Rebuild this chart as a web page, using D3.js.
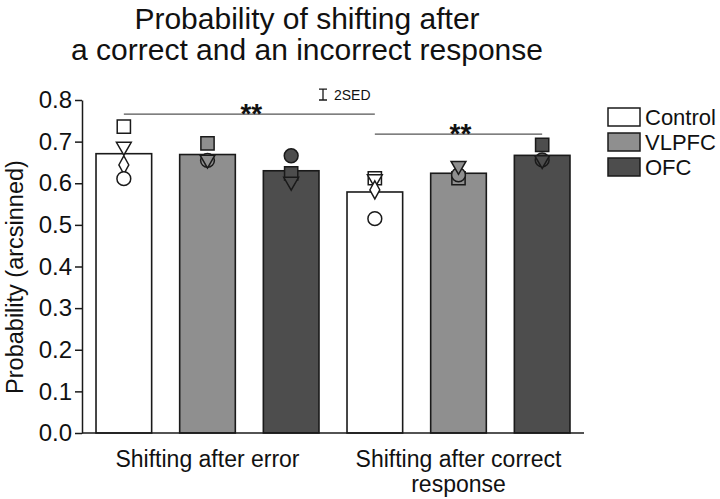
<!DOCTYPE html>
<html><head><meta charset="utf-8">
<script src="https://cdn.jsdelivr.net/npm/d3@7"></script>
<style>
html,body{margin:0;padding:0;background:#fff;}
svg text{font-family:"Liberation Sans",Arial,sans-serif;fill:#111;}
</style></head>
<body><svg id="c" width="720" height="499"></svg>
<script>
// ---- data ----
const groups = ["Control", "VLPFC", "OFC"];
const conditions = ["Shifting after error", "Shifting after correct response"];
const conditionLines = [["Shifting after error"], ["Shifting after correct", "response"]];
const meansError = [0.671, 0.669, 0.630];
const meansCorrect = [0.579, 0.624, 0.667];
// individual animals per bar: [symbol, value]
const pointsError = [
  [["square",0.736],["triangle",0.688],["diamond",0.644],["circle",0.611]],
  [["square",0.696],["circle",0.655],["triangle",0.657]],
  [["circle",0.666],["square",0.624],["triangle",0.604]]
];
const pointsCorrect = [
  [["square",0.612],["triangle",0.610],["diamond",0.584],["circle",0.515]],
  [["square",0.612],["circle",0.620],["triangle",0.642]],
  [["square",0.692],["circle",0.656],["triangle",0.656]]
];
const yTicks = [0,0.1,0.2,0.3,0.4,0.5,0.6,0.7,0.8];
const colors = ["#ffffff", "#8f8f8f", "#4d4d4d"];
const sed2 = 0.026;
// significance: [fromBar, toBar, level]
const sigs = [[0, 3, 0.766], [3, 5, 0.718]];

// ---- layout ----
const svg = d3.select("#c");
const x0 = 82, x1 = 584, yB = 433, yT = 100;
const bars = [];
[meansError, meansCorrect].forEach((m, ci) => m.forEach((v, gi) => bars.push({ci, gi, v,
  pts: (ci === 0 ? pointsError : pointsCorrect)[gi]})));
const x = d3.scaleBand().domain(d3.range(bars.length)).range([x0, x1])
  .paddingInner(0.335).paddingOuter(0.1675);
const y = d3.scaleLinear().domain([0, 0.8]).range([yB, yT]);
const ink = "#1a1a1a";

// title
svg.append("text").attr("x", 307).attr("y", 29).attr("text-anchor", "middle")
  .attr("font-size", 30).text("Probability of shifting after");
svg.append("text").attr("x", 307).attr("y", 60).attr("text-anchor", "middle")
  .attr("font-size", 30).text("a correct and an incorrect response");

// bars
svg.append("g").selectAll("rect").data(bars).join("rect")
  .attr("x", (d, i) => x(i)).attr("width", x.bandwidth())
  .attr("y", d => y(d.v)).attr("height", d => yB - y(d.v))
  .attr("fill", d => colors[d.gi]).attr("stroke", ink).attr("stroke-width", 1.6);

// symbols
const symType = {square: d3.symbolSquare, circle: d3.symbolCircle, diamond: d3.symbolDiamond, triangle: d3.symbolTriangle};
const symSize = {square: 175, circle: 150, diamond: 95, triangle: 95};
bars.forEach((b, i) => {
  const cx = x(i) + x.bandwidth() / 2;
  b.pts.forEach(([s, v]) => {
    svg.append("path")
      .attr("d", d3.symbol().type(symType[s]).size(symSize[s])())
      .attr("transform", `translate(${cx},${y(v)})` + (s === "triangle" ? " rotate(180)" : "") + (s === "diamond" ? " scale(0.95,1.0)" : ""))
      .attr("fill", colors[b.gi]).attr("stroke", ink).attr("stroke-width", 1.5);
  });
});

// axes
const yAxis = svg.append("g").attr("transform", `translate(${x0},0)`)
  .call(d3.axisLeft(y).tickValues(yTicks).tickFormat(d3.format(".1f")).tickSize(7).tickSizeOuter(0).tickPadding(3));
yAxis.selectAll("text").attr("font-size", 24).attr("font-family", "Liberation Sans, Arial, sans-serif").attr("fill", "#111");
yAxis.selectAll("line,path").attr("stroke", ink).attr("stroke-width", 1.5);
svg.append("line").attr("x1", x0).attr("x2", x1).attr("y1", yB).attr("y2", yB)
  .attr("stroke", ink).attr("stroke-width", 1.5);

svg.append("text").attr("transform", `translate(23,277) rotate(-90)`)
  .attr("text-anchor", "middle").attr("font-size", 23.5).text("Probability (arcsinned)");

// x labels
conditionLines.forEach((lines, ci) => {
  const cx = (x(ci * 3) + x(ci * 3 + 2) + x.bandwidth()) / 2;
  lines.forEach((t, li) => svg.append("text").attr("x", cx).attr("y", 467 + li * 25)
    .attr("text-anchor", "middle").attr("font-size", 23).text(t));
});

// significance
sigs.forEach(([a, b, lv]) => {
  const xa = x(a) + x.bandwidth() / 2, xb = x(b) + x.bandwidth() / 2;
  svg.append("line").attr("x1", xa).attr("x2", xb).attr("y1", y(lv)).attr("y2", y(lv))
    .attr("stroke", "#555").attr("stroke-width", 1.3);
  svg.append("text").attr("x", (xa + xb) / 2 + 2).attr("y", y(lv) + 9).attr("text-anchor", "middle")
    .attr("font-size", 28).attr("font-weight", "bold").text("**");
});

// 2SED
const sx = 323, sy0 = y(0.80), sy1 = sy0 - (y(0) - y(sed2));
svg.append("path").attr("d", `M${sx - 4},${sy1}H${sx + 4}M${sx},${sy1}V${sy0}M${sx - 4},${sy0}H${sx + 4}`)
  .attr("stroke", ink).attr("stroke-width", 1.3).attr("fill", "none");
svg.append("text").attr("x", 334).attr("y", 100).attr("font-size", 14).text("2SED");

// legend
groups.forEach((g, i) => {
  const ly = 108 + i * 25;
  svg.append("rect").attr("x", 608).attr("y", ly).attr("width", 32).attr("height", 18)
    .attr("fill", colors[i]).attr("stroke", ink).attr("stroke-width", 1.5);
  svg.append("text").attr("x", 645).attr("y", ly + 17).attr("font-size", 22).text(g);
});
</script></body></html>
